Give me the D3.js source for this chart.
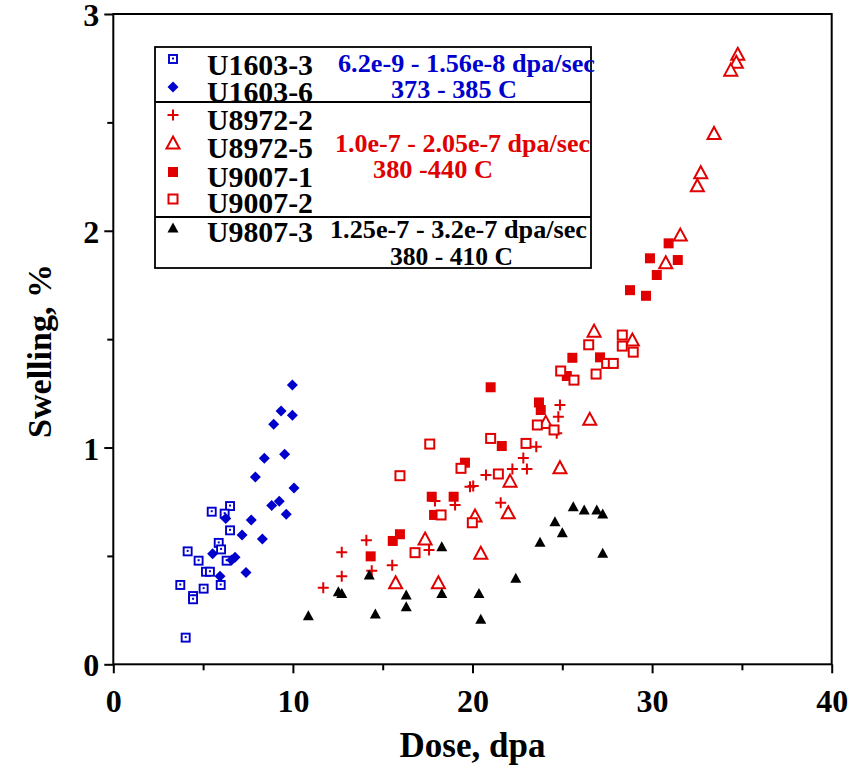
<!DOCTYPE html>
<html><head><meta charset="utf-8">
<script src="https://cdn.jsdelivr.net/npm/d3@7"></script>
<style>
html,body{margin:0;padding:0;background:#fff;}
svg{display:block;font-family:"Liberation Serif","Times New Roman",serif;font-weight:bold;}
</style></head>
<body>
<svg id="chart" width="861" height="766"></svg>
<script>
// ---- data (dose dpa, swelling %) ----
const U1603_3 = [[6.50,0.730],[5.48,0.704],[6.20,0.695],[6.50,0.618],[5.87,0.560],[6.00,0.530],[4.14,0.521],[4.75,0.478],[6.31,0.478],[5.16,0.427],[5.38,0.427],[3.73,0.366],[5.98,0.366],[5.03,0.349],[4.44,0.315],[4.44,0.300],[4.03,0.123]];
const U1603_6 = [[9.97,1.288],[9.34,1.168],[9.97,1.149],[8.93,1.107],[8.41,0.950],[9.54,0.969],[7.91,0.864],[10.06,0.813],[9.24,0.752],[8.82,0.733],[9.63,0.692],[7.68,0.666],[7.17,0.597],[8.30,0.578],[6.26,0.673],[5.53,0.510],[6.78,0.494],[6.59,0.481],[7.39,0.423],[5.94,0.406]];
const U8972_2 = [[11.69,0.353],[12.72,0.406],[12.72,0.517],[14.09,0.572],[14.39,0.432],[15.53,0.457],[17.58,0.527],[17.91,0.753],[19.03,0.735],[19.86,0.819],[24.87,1.196],[24.78,1.142],[24.69,1.066],[23.55,1.004],[22.83,0.952],[22.22,0.901],[23.03,0.901],[20.75,0.873],[20.04,0.822],[21.57,0.745]];
const U8972_5 = [[34.77,2.814],[34.69,2.777],[34.38,2.741],[33.45,2.449],[32.71,2.268],[32.52,2.208],[31.57,1.980],[30.76,1.852],[26.77,1.537],[28.90,1.496],[24.08,1.116],[26.53,1.130],[24.87,0.907],[22.09,0.845],[21.99,0.699],[20.14,0.684],[20.46,0.512],[17.36,0.578],[15.72,0.376],[18.10,0.376]];
const U9007_1 = [[14.33,0.498],[15.56,0.569],[15.96,0.600],[17.73,0.773],[17.86,0.689],[18.95,0.773],[19.58,0.930],[21.01,1.278],[23.70,1.208],[23.80,1.173],[21.63,1.007],[25.25,1.330],[29.88,1.873],[30.26,1.796],[28.77,1.726],[29.66,1.700],[25.56,1.414],[27.10,1.416],[30.92,1.942],[31.43,1.865]];
const U9007_2 = [[17.62,1.016],[15.96,0.870],[18.25,0.689],[16.80,0.515],[19.36,0.904],[24.91,1.353],[25.65,1.311],[26.88,1.339],[23.61,1.104],[24.54,1.081],[21.01,1.042],[22.98,1.019],[21.44,0.878],[19.99,0.653],[28.34,1.519],[28.34,1.468],[28.95,1.440],[26.47,1.474],[27.47,1.388],[27.84,1.388]];
const U9807_3 = [[18.29,0.542],[14.25,0.412],[12.53,0.335],[12.72,0.327],[16.31,0.320],[18.29,0.327],[16.31,0.266],[10.86,0.224],[14.59,0.232],[25.61,0.727],[26.22,0.712],[26.92,0.712],[27.25,0.693],[24.59,0.658],[25.00,0.607],[23.76,0.563],[27.25,0.512],[22.41,0.397],[20.36,0.327],[20.46,0.208]];

const xTicks = [0,10,20,30,40];
const xMinor = [5,15,25,35];
const yTicks = [0,1,2,3];
const yMinor = [0.5,1.5,2.5];
const seriesNames = ["U1603-3","U1603-6","U8972-2","U8972-5","U9007-1","U9007-2","U9807-3"];
const groupNotes = [
  ["6.2e-9 - 1.56e-8 dpa/sec","373 - 385 C"],
  ["1.0e-7 - 2.05e-7 dpa/sec","380 -440 C"],
  ["1.25e-7 - 3.2e-7 dpa/sec","380 - 410 C"]
];
const xTitle = "Dose, dpa";
const yTitle = "Swelling, %";

// ---- styles ----
const BLUE = "#0000cc", RED = "#e00000", BLACK = "#000";
const svg = d3.select("#chart");
const L = 113.3, R = 831.7, T = 14, B = 664.3;
const x = d3.scaleLinear().domain([0,40]).range([L,R]);
const y = d3.scaleLinear().domain([0,3]).range([B,T]);

// frame
svg.append("rect").attr("x",L).attr("y",T).attr("width",R-L).attr("height",B-T)
  .attr("fill","none").attr("stroke","#000").attr("stroke-width",2);

// axes
const gx = svg.append("g").attr("transform",`translate(0,${B})`)
  .call(d3.axisBottom(x).tickValues(xTicks).tickSize(9).tickPadding(0).tickFormat(d3.format("d")));
const gxm = svg.append("g").attr("transform",`translate(0,${B})`)
  .call(d3.axisBottom(x).tickValues(xMinor).tickSize(6).tickFormat(""));
const gy = svg.append("g").attr("transform",`translate(${L},0)`)
  .call(d3.axisLeft(y).tickValues(yTicks).tickSize(9).tickPadding(4).tickFormat(d3.format("d")));
const gym = svg.append("g").attr("transform",`translate(${L},0)`)
  .call(d3.axisLeft(y).tickValues(yMinor).tickSize(6).tickFormat(""));
[gx,gxm,gy,gym].forEach(g=>{
  g.attr("font-family",null).attr("font-size",null);
  g.select(".domain").remove();
  g.selectAll(".tick line").attr("stroke","#000").attr("stroke-width",2);
  g.selectAll("text").attr("font-family","Liberation Serif, serif").attr("font-weight","bold")
   .attr("font-size",32).attr("fill","#000");
});
gx.selectAll("text").attr("dy",null).attr("y",48);
gy.selectAll("text").attr("dy","0.36em").attr("x",-14);

// titles
svg.append("text").attr("x",(L+R)/2).attr("y",757).attr("text-anchor","middle")
  .attr("font-size",35).text(xTitle);
svg.append("text").attr("transform","translate(51,351) rotate(-90)").attr("text-anchor","middle")
  .attr("font-size",34).text(yTitle);

// marker drawing
function sym(g, type, color, cx, cy){
  if(type==="sqdot"){
    g.append("rect").attr("x",cx-4).attr("y",cy-4).attr("width",8).attr("height",8)
      .attr("fill","#fff").attr("stroke",color).attr("stroke-width",1.9);
    g.append("rect").attr("x",cx-1).attr("y",cy-1.5).attr("width",2).attr("height",2).attr("fill",color);
  } else if(type==="diamond"){
    g.append("path").attr("d",`M${cx},${cy-5.5}L${cx+5.5},${cy}L${cx},${cy+5.5}L${cx-5.5},${cy}Z`).attr("fill",color);
  } else if(type==="plus"){
    g.append("path").attr("d",`M${cx-5.5},${cy}H${cx+5.5}M${cx},${cy-5.5}V${cy+5.5}`)
      .attr("stroke",color).attr("stroke-width",2).attr("fill","none");
  } else if(type==="tri"){
    g.append("path").attr("d",`M${cx},${cy-6.5}L${cx+6.5},${cy+5.5}L${cx-6.5},${cy+5.5}Z`)
      .attr("fill","#fff").attr("stroke",color).attr("stroke-width",2);
  } else if(type==="fsq"){
    g.append("rect").attr("x",cx-5).attr("y",cy-5).attr("width",10).attr("height",10).attr("fill",color);
  } else if(type==="osq"){
    g.append("rect").attr("x",cx-4.5).attr("y",cy-4.5).attr("width",9).attr("height",9)
      .attr("fill","#fff").attr("stroke",color).attr("stroke-width",2);
  } else if(type==="ftri"){
    g.append("path").attr("d",`M${cx},${cy-5.5}L${cx+5.5},${cy+4.5}L${cx-5.5},${cy+4.5}Z`).attr("fill",color);
  }
}

const series = [
  {data:U1603_3, type:"sqdot", color:BLUE},
  {data:U1603_6, type:"diamond", color:BLUE},
  {data:U8972_2, type:"plus", color:RED},
  {data:U8972_5, type:"tri", color:RED},
  {data:U9007_1, type:"fsq", color:RED},
  {data:U9007_2, type:"osq", color:RED},
  {data:U9807_3, type:"ftri", color:BLACK}
];
const plot = svg.append("g");
series.forEach(s=>{
  const g = plot.append("g");
  s.data.forEach(d=>sym(g, s.type, s.color, x(d[0]), y(d[1])));
});

// legend
const lg = svg.append("g");
const lx0 = 155, lx1 = 591, ly0 = 47, ly1 = 268;
lg.append("rect").attr("x",lx0).attr("y",ly0).attr("width",lx1-lx0).attr("height",ly1-ly0)
  .attr("fill","#fff").attr("stroke","#000").attr("stroke-width",1.8);
[102,217].forEach(v=>lg.append("line").attr("x1",lx0).attr("x2",lx1).attr("y1",v).attr("y2",v)
  .attr("stroke","#000").attr("stroke-width",1.8));
const symY = [59,87,115,143,172,199,228];
const labY = [75,102,130,158,187,213,242];
series.forEach((s,i)=>{
  sym(lg, s.type, s.color, 173, symY[i]);
  lg.append("text").attr("x",207).attr("y",labY[i]).attr("font-size",30).attr("fill","#000")
    .attr("textLength",106).attr("lengthAdjust","spacingAndGlyphs")
    .text(seriesNames[i]);
});
const noteCols = [BLUE, RED, BLACK];
const noteX = [[338,595],[335,590],[330,587]];
const noteBase = [[72,98],[152,178],[238,265]];
const noteX2 = [[391,517],[373,493],[390,513]];
groupNotes.forEach((n,i)=>{
  lg.append("text").attr("x",noteX[i][0]).attr("y",noteBase[i][0]).attr("font-size",25)
    .attr("fill",noteCols[i]).attr("textLength",noteX[i][1]-noteX[i][0]).attr("lengthAdjust","spacingAndGlyphs").text(n[0]);
  lg.append("text").attr("x",noteX2[i][0]).attr("y",noteBase[i][1]).attr("font-size",25)
    .attr("fill",noteCols[i]).attr("textLength",noteX2[i][1]-noteX2[i][0]).attr("lengthAdjust","spacingAndGlyphs").text(n[1]);
});
</script>
</body></html>
